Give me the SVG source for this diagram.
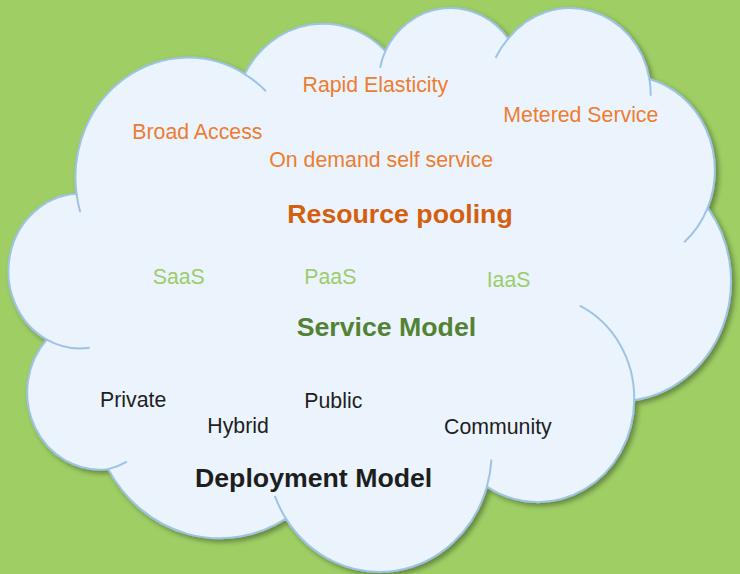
<svg xmlns="http://www.w3.org/2000/svg" width="740" height="574" viewBox="0 0 740 574">
  <defs>
    <filter id="shadow" x="-5%" y="-5%" width="115%" height="115%">
      <feDropShadow dx="3" dy="3" stdDeviation="2.5" flood-color="#000" flood-opacity="0.35"/>
    </filter>
    <style>
      .cloud { fill: #EBF4FC; stroke: #9DC3E6; stroke-width: 2; }
      .inner { fill: none; stroke: #9DC3E6; stroke-width: 2; }
      text { font-family: "Liberation Sans", Arial, sans-serif; }
      .char { font-size: 21.3px; fill: #ED7D31; }
      .pool { font-size: 26.7px; font-weight: bold; fill: #D35F0F; }
      .svc { font-size: 21.3px; fill: #9DCC6B; }
      .svcm { font-size: 26.7px; font-weight: bold; fill: #548235; }
      .dep { font-size: 21.3px; fill: #1E1E1E; }
      .depm { font-size: 26.7px; font-weight: bold; fill: #1E1E1E; }
    </style>
  </defs>
  <rect x="0" y="0" width="740" height="574" fill="#9ECE64"/>
  <g id="cloud">
    <path class="cloud" filter="url(#shadow)" d="M76.49,193.69 A112.41,119.93 0 0 1 244.70,74.05 A88.77,94.83 0 0 1 385.37,50.96 A72.66,77.58 0 0 1 508.17,38.53 A80.85,86.06 0 0 1 649.40,78.94 A88.77,94.91 0 0 1 707.67,207.92 A112.78,120.32 0 0 1 634.20,400.32 A96.30,102.66 0 0 1 486.91,486.59 A112.39,120.26 0 0 1 285.92,518.60 A128.51,137.59 0 0 1 108.22,469.12 A72.58,77.23 0 0 1 46.77,339.64 A72.33,77.58 0 0 1 76.49,193.69 Z"/>
    <path class="inner" d="M89.69,347.77 A72.33,77.58 0 0 1 46.77,339.64 M126.89,461.59 A72.58,77.23 0 0 1 108.22,469.12 M285.92,518.60 A112.39,120.26 0 0 1 274.79,495.87 M491.43,459.66 A112.39,120.26 0 0 1 486.91,486.59 M579.68,305.71 A96.30,102.66 0 0 1 634.20,400.32 M707.67,207.92 A88.77,94.91 0 0 1 684.2,242.25 M649.40,78.94 A80.85,86.06 0 0 1 650.68,95.78 M495.61,57.73 A80.85,86.06 0 0 1 508.17,38.53 M380.13,67.76 A72.66,77.58 0 0 1 385.37,50.96 M244.70,74.05 A112.41,119.93 0 0 1 265.89,91.18 M80.27,212.21 A112.41,119.93 0 0 1 76.49,193.69"/>
  </g>
  <g id="characteristics">
    <text class="char" x="302.5" y="91.7">Rapid Elasticity</text>
    <text class="char" x="132.3" y="139.3">Broad Access</text>
    <text class="char" x="269.3" y="166.7">On demand self service</text>
    <text class="char" x="503.3" y="121.7">Metered Service</text>
    <text class="pool" x="287.3" y="222.7">Resource pooling</text>
  </g>
  <g id="service-model">
    <text class="svc" x="152.7" y="284.3">SaaS</text>
    <text class="svc" x="304.3" y="284.3">PaaS</text>
    <text class="svc" x="486.7" y="287">IaaS</text>
    <text class="svcm" x="296.7" y="335.7">Service Model</text>
  </g>
  <g id="deployment-model">
    <text class="dep" x="100" y="406.7">Private</text>
    <text class="dep" x="207.3" y="433.3">Hybrid</text>
    <text class="dep" x="304.3" y="408.3">Public</text>
    <text class="dep" x="444" y="434">Community</text>
    <text class="depm" x="195" y="486.7">Deployment Model</text>
  </g>
</svg>
